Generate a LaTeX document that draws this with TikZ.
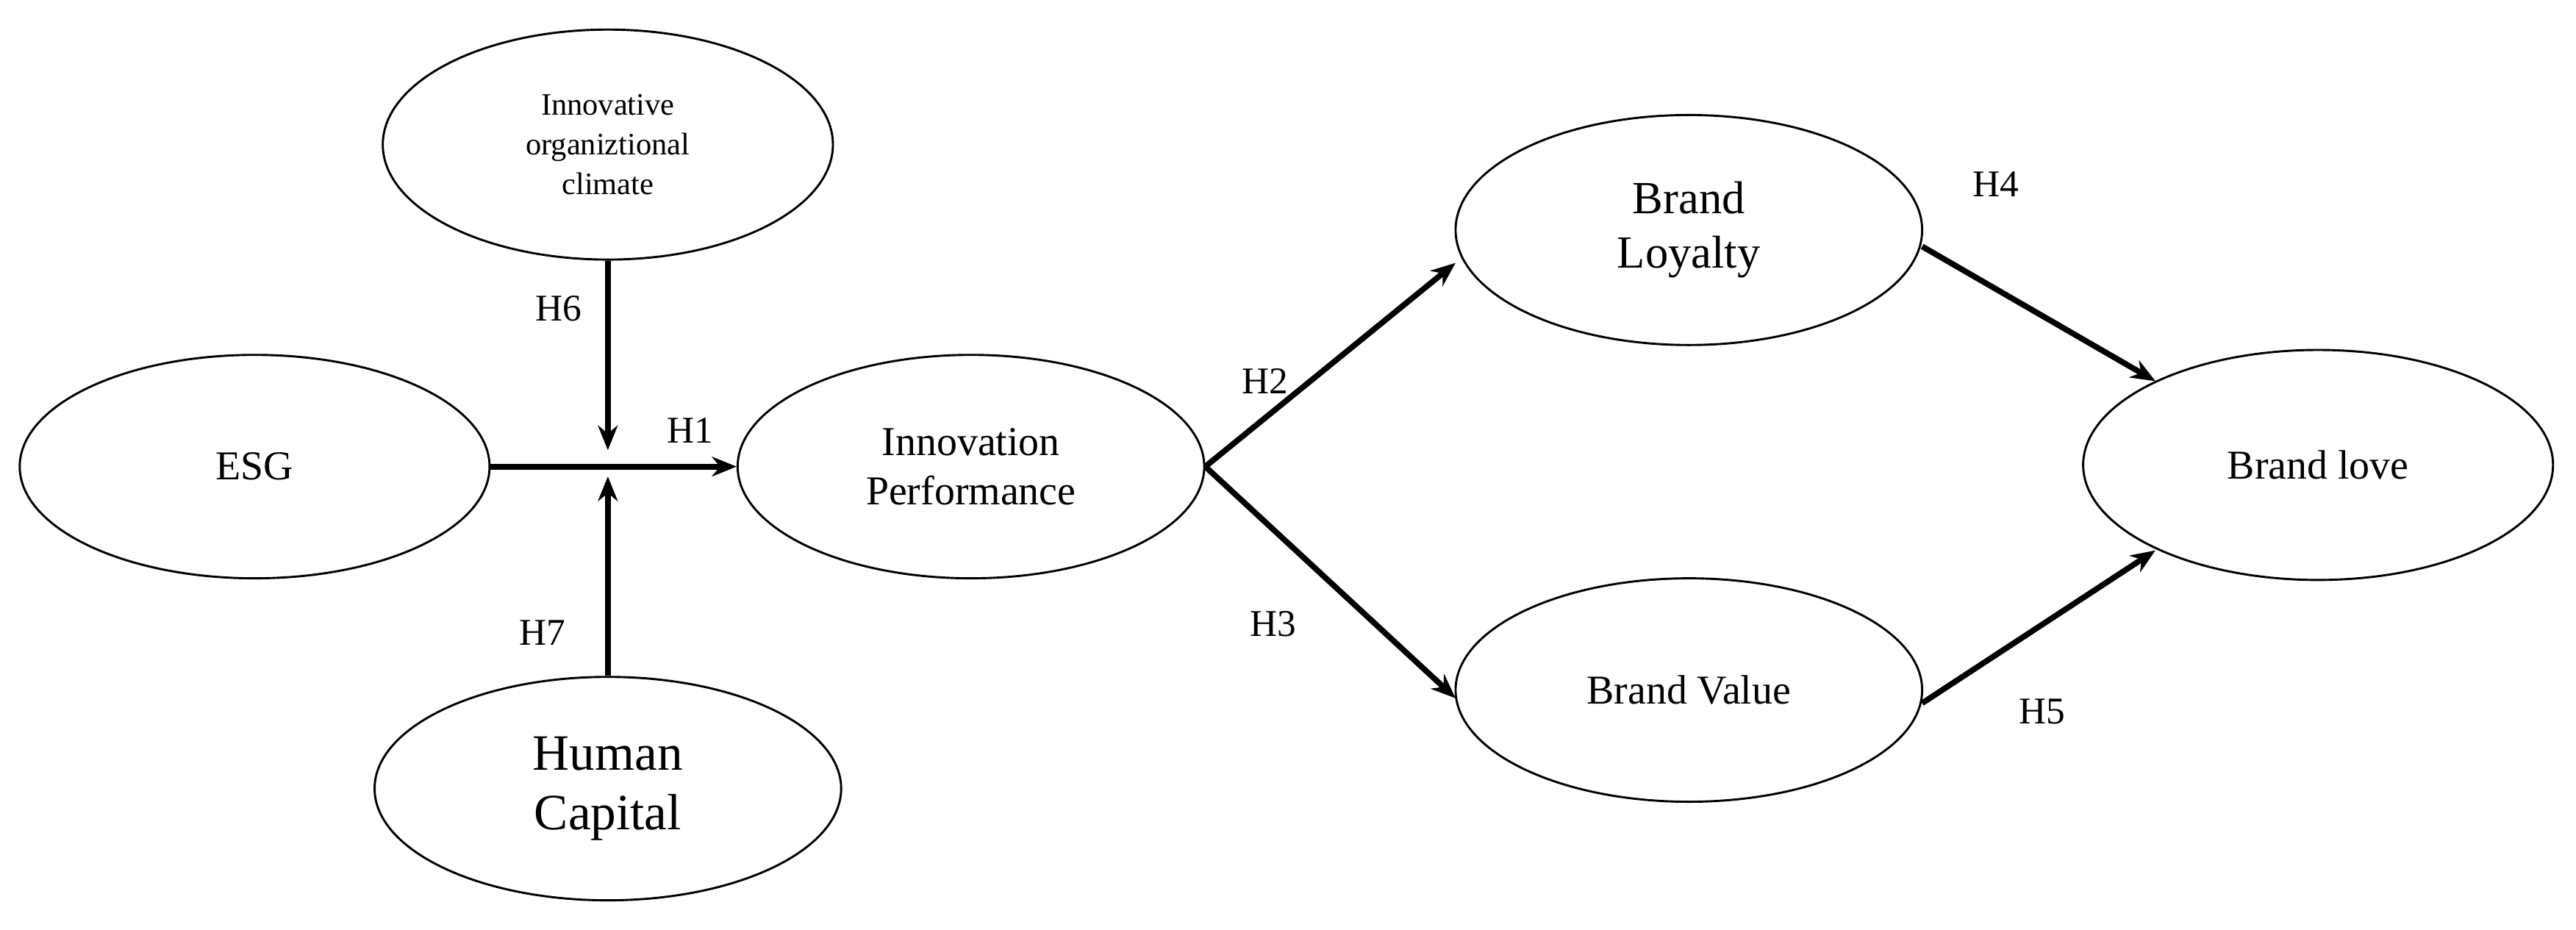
\documentclass[tikz,border=0pt]{standalone}
\usepackage{fontspec}
\setmainfont{Liberation Serif}
\usetikzlibrary{shapes.geometric,arrows.meta}
\begin{document}
\begin{tikzpicture}[x=1pt,y=-1pt,
  el/.style={draw,ellipse,line width=1.3pt,align=center,font=\fontsize{25}{30}\selectfont},
  ar/.style={line width=3.5pt,-{Stealth[length=15pt,width=12pt]}},
  lb/.style={font=\fontsize{23}{27}\selectfont}]
\useasboundingbox (0,0) rectangle (1568,566);
\node[el,minimum width=286pt,minimum height=136pt] (esg) at (155,284) {ESG};
\node[el,minimum width=274pt,minimum height=140pt,font=\fontsize{19}{24}\selectfont] (ioc) at (370,88) {Innovative\\organiztional\\climate};
\node[el,minimum width=284pt,minimum height=136pt,font=\fontsize{31}{36}\selectfont] (hc) at (370,480) {Human\\Capital};
\node[el,minimum width=284pt,minimum height=136pt] (ip) at (591,284) {Innovation\\Performance};
\node[el,minimum width=284pt,minimum height=140pt,font=\fontsize{28}{33}\selectfont] (bl) at (1028,140) {Brand\\Loyalty};
\node[el,minimum width=284pt,minimum height=136pt] (bv) at (1028,420) {Brand Value};
\node[el,minimum width=286pt,minimum height=140pt] (blove) at (1411,283) {Brand love};
\coordinate (m1) at (370,274);
\coordinate (m2) at (370,290);
\draw[ar] (esg.east) -- (ip.west);
\draw[ar] (ioc.south) -- (m1);
\draw[ar] (hc.north) -- (m2);
\draw[ar] (ip.east) -- (886,160) coordinate (a2);
\draw[ar] (ip.east) -- (886,425) coordinate (a3);
\draw[ar] (1170,150) -- (1312,232) coordinate (a4);
\draw[ar] (1170,428) -- (1312,335) coordinate (a5);
\node[lb] (h6) at (340,188) {H6};
\node[lb] (h1) at (420,262) {H1};
\node[lb] (h7) at (330,385) {H7};
\node[lb] (h2) at (770,232) {H2};
\node[lb] (h3) at (775,380) {H3};
\node[lb] (h4) at (1215,112) {H4};
\node[lb] (h5) at (1243,433) {H5};
\end{tikzpicture}
\end{document}
